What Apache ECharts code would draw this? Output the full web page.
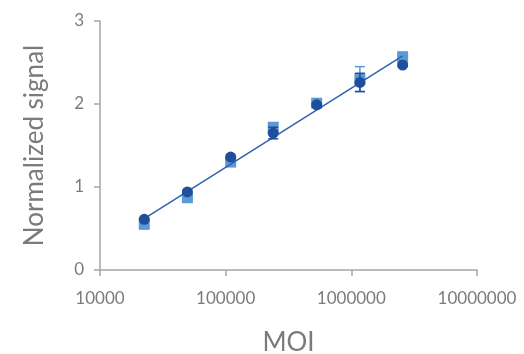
<!DOCTYPE html>
<html><head><meta charset="utf-8">
<script src="https://cdn.jsdelivr.net/npm/echarts@6/dist/echarts.min.js"></script>
<style>html,body{margin:0;padding:0;background:#fff}#c{width:524px;height:354px}</style>
</head><body><div id="c"></div>
<script>
const moi = [22500, 49600, 109600, 239000, 530000, 1170000, 2560000];
const circleVals = [0.61, 0.94, 1.36, 1.65, 1.99, 2.26, 2.47];
const circleErr = [0.02, 0.02, 0.02, 0.07, 0.02, 0.11, 0.02];
const squareVals = [0.55, 0.87, 1.30, 1.72, 2.01, 2.30, 2.57];
const squareErr = [0.02, 0.02, 0.02, 0.05, 0.02, 0.15, 0.02];
const trendX = [22500, 2560000];
const trendY = [0.62, 2.58];
const xTicks = ['10000', '100000', '1000000', '10000000'];
const yTicks = ['0', '1', '2', '3'];

const DARK = '#1f4e9c', LIGHT = '#5b9bd5', LINE = '#2e62b0';
const FONT = 'Lato';
const TXT = '#7b7b7b';

function pts(vals){ return moi.map((x,i)=>[x, vals[i]]); }
function errData(vals, errs){ return moi.map((x,i)=>[x, vals[i]-errs[i], vals[i]+errs[i]]); }
function errSeries(vals, errs, color){
  return {
    type:'custom', data: errData(vals, errs), silent:true,
    renderItem(params, api){
      const lo = api.coord([api.value(0), api.value(1)]);
      const hi = api.coord([api.value(0), api.value(2)]);
      const w = 5;
      const st = {stroke: color, lineWidth: 1.5};
      return {type:'group', children:[
        {type:'line', shape:{x1:lo[0],y1:lo[1],x2:hi[0],y2:hi[1]}, style:st},
        {type:'line', shape:{x1:lo[0]-w,y1:lo[1],x2:lo[0]+w,y2:lo[1]}, style:st},
        {type:'line', shape:{x1:hi[0]-w,y1:hi[1],x2:hi[0]+w,y2:hi[1]}, style:st}
      ]};
    }
  };
}

const chart = echarts.init(document.getElementById('c'));
chart.setOption({
  animation:false,
  textStyle:{fontFamily:FONT},
  grid:{left:100, right:47, top:21, bottom:84, outerBoundsMode:'none', containLabel:false},
  xAxis:{
    type:'log', logBase:10, min:10000, max:10000000,
    name:'MOI', nameLocation:'middle', nameGap:60,
    nameTextStyle:{color:TXT, fontSize:26, fontFamily:FONT},
    axisLine:{lineStyle:{color:'#a6a6a6', width:1.5}},
    axisTick:{show:true, length:6, lineStyle:{color:'#a6a6a6', width:1.5}},
    axisLabel:{color:TXT, fontSize:17, margin:20, fontFamily:FONT,
      formatter:v=>{ const k=Math.round(Math.log10(v))-4; return xTicks[k]; }},
    splitLine:{show:false}, minorTick:{show:false}
  },
  yAxis:{
    type:'value', min:0, max:3, interval:1,
    name:'Normalized signal', nameLocation:'middle', nameGap:52,
    nameTextStyle:{color:TXT, fontSize:26, fontFamily:FONT},
    axisLine:{show:true, lineStyle:{color:'#a6a6a6', width:1.5}},
    axisTick:{show:true, length:6, lineStyle:{color:'#a6a6a6', width:1.5}},
    axisLabel:{color:TXT, fontSize:17, margin:16, fontFamily:FONT,
      formatter:v=>yTicks[Math.round(v)]},
    splitLine:{show:false}
  },
  series:[
    {type:'scatter', data:pts(squareVals), symbol:'rect', symbolSize:11,
      itemStyle:{color:LIGHT, opacity:1}, z:2},
    Object.assign(errSeries(squareVals, squareErr, LIGHT), {z:3}),
    {type:'line', data:trendX.map((x,i)=>[x,trendY[i]]), symbol:'none',
      lineStyle:{color:LINE, width:1.5}, z:4},
    Object.assign(errSeries(circleVals, circleErr, DARK), {z:5}),
    {type:'scatter', data:pts(circleVals), symbol:'circle', symbolSize:11,
      itemStyle:{color:DARK, opacity:1}, z:6}
  ]
});
</script></body></html>
